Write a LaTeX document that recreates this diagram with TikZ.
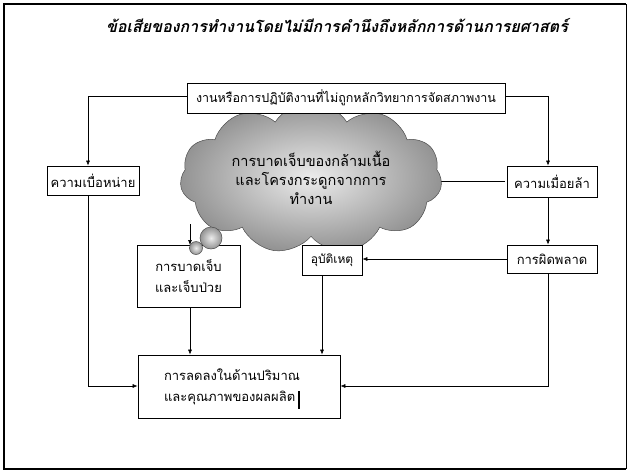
\documentclass[tikz,border=0pt]{standalone}
\usepackage{fontspec}
\newfontfamily\thai[Script=Thai]{Loma}
\usetikzlibrary{shapes.symbols,arrows.meta}
\begin{document}
\begin{tikzpicture}[x=1pt,y=-1pt,
  box/.style={draw=black, line width=0.7pt, fill=white, inner sep=1pt, font=\thai\fontsize{13}{15}\selectfont, align=center},
  conn/.style={draw=black, line width=0.6pt},
  arr/.style={conn, -{Latex[length=5pt,width=4pt]}},
  bubble/.style={draw=black!70, line width=0.5pt, inner color=gray!15, outer color=gray!85}]
\useasboundingbox (0,0) rectangle (628,471);
% frame
\draw[line width=2pt] (626,4) -- (4,4) -- (4,469) -- (626,469);
\draw[line width=0.6pt] (626,4) -- (626,469);
% title
\node (title) at (337,26) {\thai\bfseries\itshape\fontsize{16}{19}\selectfont ข้อเสียของการทำงานโดยไม่มีการคำนึงถึงหลักการด้านการยศาสตร์};
% arrows partly hidden under the cloud
\draw[arr] (190,224) -- (190,245);
\draw[arr] (333,226) -- (333,245);
\draw[conn] (505,181.5) -- (400,181.5);
% cloud
\node[cloud, cloud puffs=11, cloud puff arc=115, aspect=1.95, minimum width=262, minimum height=134,
  bubble, font=\thai\fontsize{14.5}{17}\selectfont, align=center] (cloud) at (311,178)
  {การบาดเจ็บของกล้ามเนื้อ\\[2pt]และโครงกระดูกจากการ\\[2pt]ทำงาน};
% boxes
\node[box, minimum width=318, minimum height=30, font=\thai\fontsize{12.5}{15}\selectfont] (top) at (346,98) {งานหรือการปฏิบัติงานที่ไม่ถูกหลักวิทยาการจัดสภาพงาน};
\node[box, minimum width=92, minimum height=29] (bore) at (93,180.5) {ความเบื่อหน่าย};
\node[box, minimum width=90, minimum height=31] (tired) at (552,181.5) {ความเมื่อยล้า};
\node[box, minimum width=90, minimum height=28] (err) at (552,259) {การผิดพลาด};
\node[box, minimum width=60, minimum height=30, font=\thai\fontsize{12}{14}\selectfont] (acc) at (332,260) {อุบัติเหตุ};
\node[box, minimum width=103, minimum height=62] (inj) at (188.5,276) {การบาดเจ็บ\\[6pt]และเจ็บป่วย};
\node[box, minimum width=202, minimum height=63, align=left, text width=150] (out) at (239,386.5) {การลดลงในด้านปริมาณ\\[6pt]และคุณภาพของผลผลิต};
\draw[line width=1.2pt] (299,391) -- (299,409);
% thought bubbles
\shade[bubble] (211,238) circle (11);
\shade[bubble] (196,248) circle (6.5);
% connectors
\coordinate (tl) at (88,96);
\coordinate (tr) at (548,96);
\draw[arr] (top.west |- tl) -- (tl) -- (bore.north -| tl);
\draw[arr] (top.east |- tr) -- (tr) -- (tired.north -| tr);
\draw[arr] (tired.south -| tr) -- (err.north -| tr);
\draw[arr] (err.west) -- (acc.east |- err.west);
\coordinate (bl) at (88,386);
\coordinate (br) at (548,386);
\draw[arr] (bore.south -| bl) -- (bl) -- (out.west |- bl);
\draw[arr] (err.south -| br) -- (br) -- (out.east |- br);
\draw[arr] (inj.south -| 190,0) -- (out.north -| 190,0);
\draw[arr] (acc.south -| 322,0) -- (out.north -| 322,0);
\end{tikzpicture}
\end{document}
